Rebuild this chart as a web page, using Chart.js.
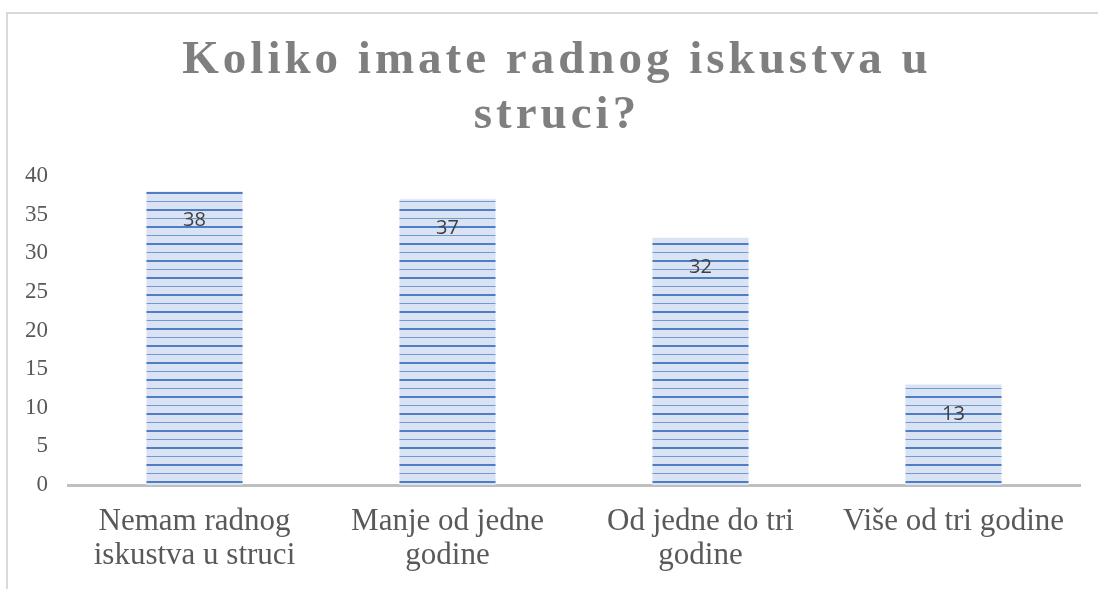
<!DOCTYPE html>
<html>
<head>
<meta charset="utf-8">
<title>Koliko imate radnog iskustva u struci?</title>
<script src="https://cdn.jsdelivr.net/npm/chart.js@4.4.0/dist/chart.umd.min.js"></script>
<style>
    html, body { margin: 0; padding: 0; background: #fff; overflow: hidden; }
    #frame {
        position: absolute; left: 6px; top: 12px;
        width: 2000px; height: 2000px;
        border-left: 2px solid #d9d9d9; border-top: 2px solid #d9d9d9;
    }
    #chart { position: absolute; left: 0; top: 0; }
</style>
</head>
<body>
<div id="frame"></div>
<canvas id="chart" width="1098" height="589"></canvas>
<script>
const titleLines = ['Koliko imate radnog iskustva u', 'struci?'];
const categories = [
    ['Nemam radnog', 'iskustva u struci'],
    ['Manje od jedne', 'godine'],
    ['Od jedne do tri', 'godine'],
    ['Više od tri godine']
];
const answers = [38, 37, 32, 13];
const yMin = 0;
const yMax = 40;
const yStep = 5;

const canvas = document.getElementById('chart');
const ctx = canvas.getContext('2d');

// horizontal stripe fill like the Excel pattern
function stripePattern() {
    const tile = document.createElement('canvas');
    tile.width = 4;
    tile.height = 17;
    const g = tile.getContext('2d');
    g.fillStyle = '#dae3f3';
    g.fillRect(0, 0, 4, 17);
    g.fillStyle = '#4f7ec4';
    g.fillRect(0, 5, 4, 2);
    g.fillStyle = '#7399d2';
    g.fillRect(0, 14, 4, 1);
    return ctx.createPattern(tile, 'repeat');
}

// title with letter spacing, nudged to the centre of the frame
const spacedTitle = {
    id: 'spacedTitle',
    afterInit(chart) {
        const block = chart.titleBlock;
        if (!block) return;
        const draw = block.draw;
        block.draw = function() {
            const c = this.ctx;
            c.save();
            c.letterSpacing = '4px';
            c.translate(13, 0);
            draw.apply(this, arguments);
            c.restore();
        };
    }
};

const valueLabels = {
    id: 'valueLabels',
    afterDatasetsDraw(chart) {
        const meta = chart.getDatasetMeta(0);
        const c = chart.ctx;
        c.save();
        c.font = '20px "Open Sans"';
        c.fillStyle = '#404040';
        c.textAlign = 'center';
        c.textBaseline = 'alphabetic';
        meta.data.forEach((bar, i) => {
            c.fillText(String(answers[i]), bar.x, bar.y + 35);
        });
        c.restore();
    }
};

new Chart(ctx, {
    type: 'bar',
    data: {
        labels: categories,
        datasets: [{
            data: answers,
            backgroundColor: stripePattern(),
            borderWidth: 0,
            categoryPercentage: 1,
            barPercentage: 0.38
        }]
    },
    options: {
        responsive: false,
        animation: false,
        devicePixelRatio: 1,
        layout: { padding: { left: 8, right: 18, top: 0, bottom: 0 } },
        plugins: {
            legend: { display: false },
            tooltip: { enabled: false },
            title: {
                display: true,
                text: titleLines,
                color: '#7f7f7f',
                font: { family: '"Liberation Serif", "Times New Roman", serif', size: 47, weight: 'bold', lineHeight: 1.17 },
                padding: { top: 33, bottom: 33 }
            }
        },
        scales: {
            x: {
                z: 1,
                grid: { display: false, drawTicks: false },
                border: { display: true, color: '#bfbfbf', width: 3 },
                ticks: {
                    color: '#595959',
                    padding: 20,
                    maxRotation: 0,
                    autoSkip: false,
                    font: { family: '"Liberation Serif", "Times New Roman", serif', size: 31, lineHeight: 1.1 }
                },
                afterFit(scale) { scale.height = 104; }
            },
            y: {
                min: yMin,
                max: yMax,
                grid: { display: false, drawTicks: false },
                border: { display: false },
                ticks: {
                    stepSize: yStep,
                    color: '#595959',
                    padding: 20,
                    font: { family: '"Liberation Serif", "Times New Roman", serif', size: 23 }
                },
                afterFit(scale) { scale.width = 60; }
            }
        }
    },
    plugins: [spacedTitle, valueLabels]
});
</script>
</body>
</html>
